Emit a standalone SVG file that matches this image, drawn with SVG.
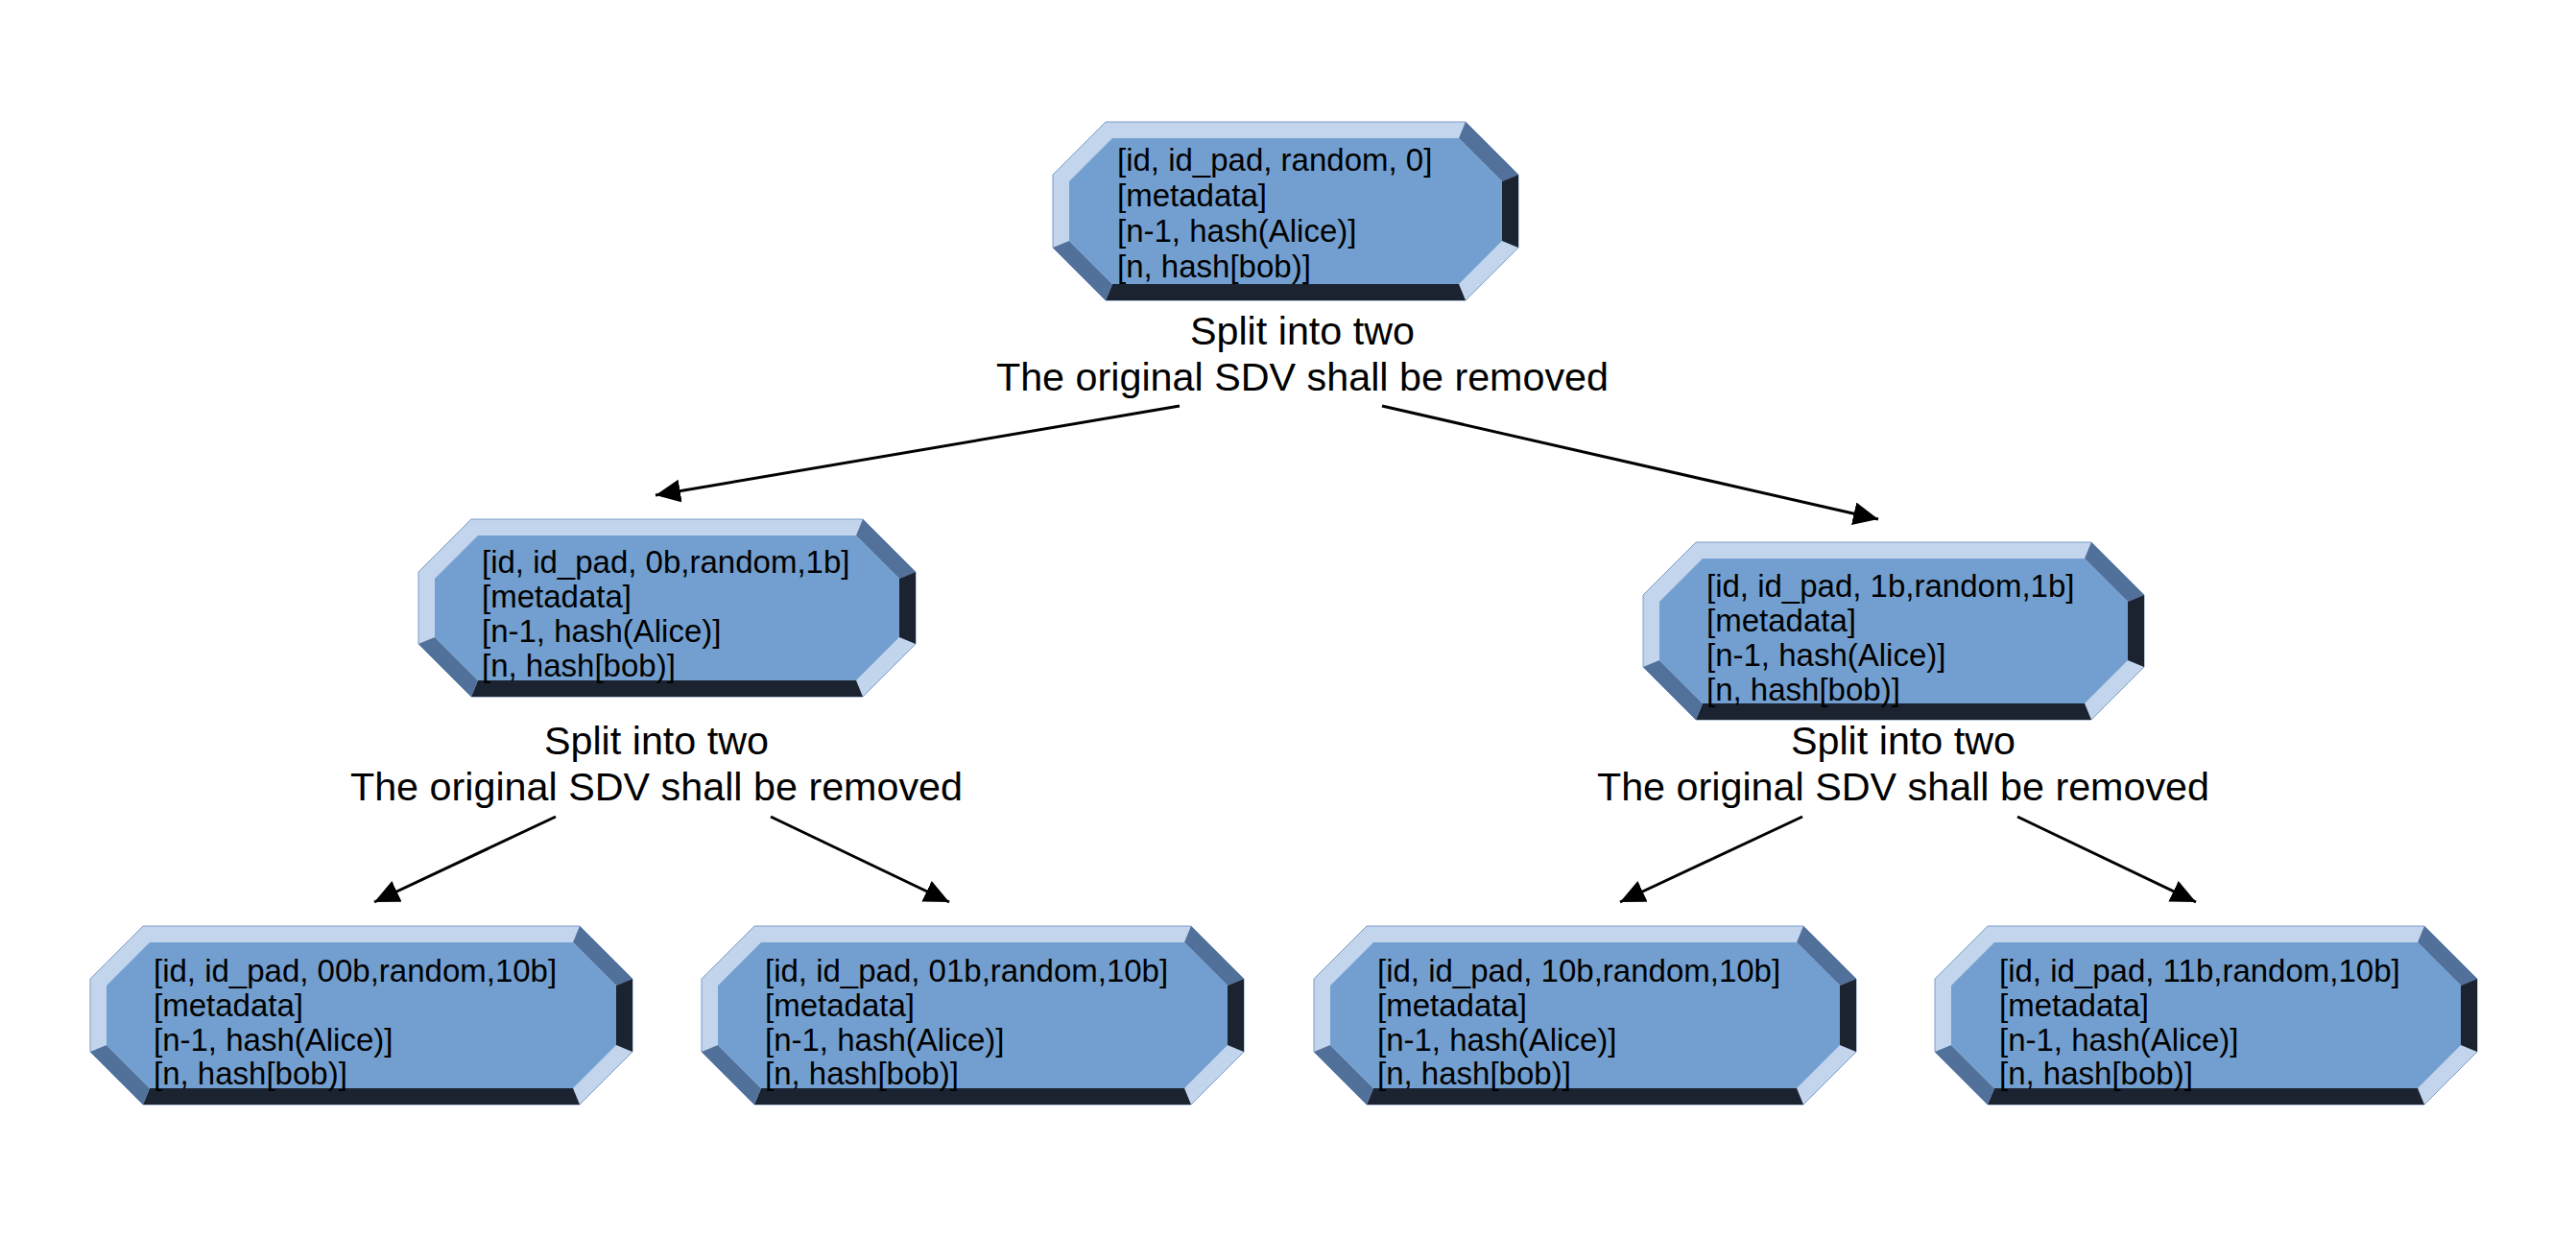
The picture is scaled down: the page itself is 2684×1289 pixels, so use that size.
<svg xmlns="http://www.w3.org/2000/svg" width="2684" height="1289" viewBox="0 0 2684 1289">
<style>
.lt{fill:#c3d5ec;stroke:#7a9cc6;stroke-width:1}
.md{fill:#51709a}
.dk{fill:#1b2330}
.face{fill:#729fcf}
.t{font-family:"Liberation Sans",Arial,sans-serif;font-size:33px;fill:#000}
.lbl{font-family:"Liberation Sans",Arial,sans-serif;font-size:41.3px;fill:#000;text-anchor:middle}
.conn{stroke:#000;stroke-width:3;fill:none;marker-end:url(#ah)}
</style>
<defs>
<marker id="ah" markerUnits="userSpaceOnUse" markerWidth="30" markerHeight="30" refX="26" refY="12" orient="auto">
<path d="M0,0 L26,12 L0,24 Z" fill="#000"/>
</marker>
</defs>
<rect width="2684" height="1289" fill="#fff"/>

<g id="node-root" transform="translate(1097,127)">
<polygon class="lt" points="55,0 430,0 485,55 485,131 430,186 55,186 0,131 0,55"/>
<polygon class="md" points="430,0 485,55 468,62 423,17"/>
<polygon class="dk" points="485,55 485,131 468,124 468,62"/>
<polygon class="dk" points="430,186 55,186 62,169 423,169"/>
<polygon class="md" points="55,186 0,131 17,124 62,169"/>
<polygon class="face" points="62,17 423,17 468,62 468,124 423,169 62,169 17,124 17,62"/>
<text class="t"><tspan x="67" y="51">[id, id_pad, random, 0]</tspan><tspan x="67" y="88">[metadata]</tspan><tspan x="67" y="125">[n-1, hash(Alice)]</tspan><tspan x="67" y="162">[n, hash[bob)]</tspan></text>
</g>

<g id="node-0b" transform="translate(436,541)">
<polygon class="lt" points="55,0 463,0 518,55 518,130 463,185 55,185 0,130 0,55"/>
<polygon class="md" points="463,0 518,55 501,62 456,17"/>
<polygon class="dk" points="518,55 518,130 501,123 501,62"/>
<polygon class="dk" points="463,185 55,185 62,168 456,168"/>
<polygon class="md" points="55,185 0,130 17,123 62,168"/>
<polygon class="face" points="62,17 456,17 501,62 501,123 456,168 62,168 17,123 17,62"/>
<text class="t"><tspan x="66" y="56">[id, id_pad, 0b,random,1b]</tspan><tspan x="66" y="92">[metadata]</tspan><tspan x="66" y="128">[n-1, hash(Alice)]</tspan><tspan x="66" y="164">[n, hash[bob)]</tspan></text>
</g>

<g id="node-1b" transform="translate(1712,565)">
<polygon class="lt" points="55,0 467,0 522,55 522,130 467,185 55,185 0,130 0,55"/>
<polygon class="md" points="467,0 522,55 505,62 460,17"/>
<polygon class="dk" points="522,55 522,130 505,123 505,62"/>
<polygon class="dk" points="467,185 55,185 62,168 460,168"/>
<polygon class="md" points="55,185 0,130 17,123 62,168"/>
<polygon class="face" points="62,17 460,17 505,62 505,123 460,168 62,168 17,123 17,62"/>
<text class="t"><tspan x="66" y="57">[id, id_pad, 1b,random,1b]</tspan><tspan x="66" y="93">[metadata]</tspan><tspan x="66" y="129">[n-1, hash(Alice)]</tspan><tspan x="66" y="165">[n, hash[bob)]</tspan></text>
</g>

<g id="node-00b" transform="translate(94,965)">
<polygon class="lt" points="55,0 510,0 565,55 565,131 510,186 55,186 0,131 0,55"/>
<polygon class="md" points="510,0 565,55 548,62 503,17"/>
<polygon class="dk" points="565,55 565,131 548,124 548,62"/>
<polygon class="dk" points="510,186 55,186 62,169 503,169"/>
<polygon class="md" points="55,186 0,131 17,124 62,169"/>
<polygon class="face" points="62,17 503,17 548,62 548,124 503,169 62,169 17,124 17,62"/>
<text class="t"><tspan x="66" y="58">[id, id_pad, 00b,random,10b]</tspan><tspan x="66" y="94">[metadata]</tspan><tspan x="66" y="130">[n-1, hash(Alice)]</tspan><tspan x="66" y="165">[n, hash[bob)]</tspan></text>
</g>

<g id="node-01b" transform="translate(731,965)">
<polygon class="lt" points="55,0 510,0 565,55 565,131 510,186 55,186 0,131 0,55"/>
<polygon class="md" points="510,0 565,55 548,62 503,17"/>
<polygon class="dk" points="565,55 565,131 548,124 548,62"/>
<polygon class="dk" points="510,186 55,186 62,169 503,169"/>
<polygon class="md" points="55,186 0,131 17,124 62,169"/>
<polygon class="face" points="62,17 503,17 548,62 548,124 503,169 62,169 17,124 17,62"/>
<text class="t"><tspan x="66" y="58">[id, id_pad, 01b,random,10b]</tspan><tspan x="66" y="94">[metadata]</tspan><tspan x="66" y="130">[n-1, hash(Alice)]</tspan><tspan x="66" y="165">[n, hash[bob)]</tspan></text>
</g>

<g id="node-10b" transform="translate(1369,965)">
<polygon class="lt" points="55,0 510,0 565,55 565,131 510,186 55,186 0,131 0,55"/>
<polygon class="md" points="510,0 565,55 548,62 503,17"/>
<polygon class="dk" points="565,55 565,131 548,124 548,62"/>
<polygon class="dk" points="510,186 55,186 62,169 503,169"/>
<polygon class="md" points="55,186 0,131 17,124 62,169"/>
<polygon class="face" points="62,17 503,17 548,62 548,124 503,169 62,169 17,124 17,62"/>
<text class="t"><tspan x="66" y="58">[id, id_pad, 10b,random,10b]</tspan><tspan x="66" y="94">[metadata]</tspan><tspan x="66" y="130">[n-1, hash(Alice)]</tspan><tspan x="66" y="165">[n, hash[bob)]</tspan></text>
</g>

<g id="node-11b" transform="translate(2016,965)">
<polygon class="lt" points="55,0 510,0 565,55 565,131 510,186 55,186 0,131 0,55"/>
<polygon class="md" points="510,0 565,55 548,62 503,17"/>
<polygon class="dk" points="565,55 565,131 548,124 548,62"/>
<polygon class="dk" points="510,186 55,186 62,169 503,169"/>
<polygon class="md" points="55,186 0,131 17,124 62,169"/>
<polygon class="face" points="62,17 503,17 548,62 548,124 503,169 62,169 17,124 17,62"/>
<text class="t"><tspan x="67" y="58">[id, id_pad, 11b,random,10b]</tspan><tspan x="67" y="94">[metadata]</tspan><tspan x="67" y="130">[n-1, hash(Alice)]</tspan><tspan x="67" y="165">[n, hash[bob)]</tspan></text>
</g>

<g id="labels">
<text class="lbl"><tspan x="1357" y="359">Split into two</tspan><tspan x="1357" y="407">The original SDV shall be removed</tspan></text>
<text class="lbl"><tspan x="684" y="786">Split into two</tspan><tspan x="684" y="834">The original SDV shall be removed</tspan></text>
<text class="lbl"><tspan x="1983" y="786">Split into two</tspan><tspan x="1983" y="834">The original SDV shall be removed</tspan></text>
</g>

<g id="connectors">
<line class="conn" x1="1229" y1="423" x2="683" y2="516"/>
<line class="conn" x1="1440" y1="423" x2="1957" y2="541"/>
<line class="conn" x1="579" y1="851" x2="390" y2="940"/>
<line class="conn" x1="803" y1="851" x2="989" y2="940"/>
<line class="conn" x1="1878" y1="851" x2="1688" y2="940"/>
<line class="conn" x1="2102" y1="851" x2="2288" y2="940"/>
</g>
</svg>
